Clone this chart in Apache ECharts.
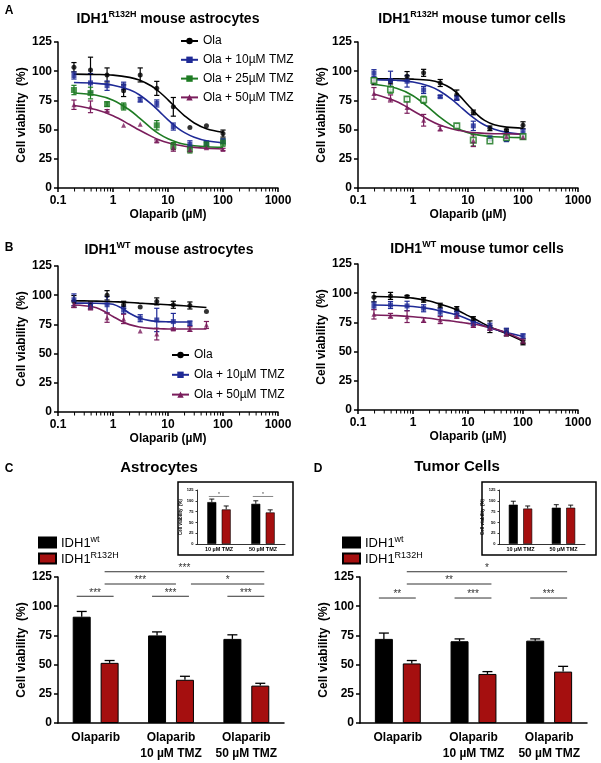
<!DOCTYPE html>
<html><head><meta charset="utf-8">
<script src="https://cdn.jsdelivr.net/npm/echarts@6/dist/echarts.min.js"></script>
<style>html,body{margin:0;padding:0;background:#fff}#c{width:601px;height:763px}</style>
</head><body><div id="c"></div>
<script>
// ---------- DATA ----------
const conc = [0.195, 0.39, 0.78, 1.56, 3.125, 6.25, 12.5, 25, 50, 100];
const fitX = [0.195, 0.5, 1, 2, 3, 5, 7, 10, 15, 20, 30, 50, 100];
const fitXB = [0.195, 0.3, 0.5, 0.75, 1, 1.5, 2, 3, 5, 7, 10, 15, 25, 50];
const xTickVals = [0.1, 1, 10, 100, 1000];
const minorTickVals = [0.2,0.3,0.4,0.5,0.6,0.7,0.8,0.9,2,3,4,5,6,7,8,9,20,30,40,50,60,70,80,90,200,300,400,500,600,700,800,900];

// Panel A left: IDH1 R132H mouse astrocytes
const olaAL = [103.4,101,96.8,83.3,96.8,85.3,69.5,51.7,53.2,46.6];
const olaALerr = [4,11,6,5,6,6,8,0,0,3];
const t10AL = [96.3,90,87.6,87.6,75.6,72.4,52.6,37.4,38.2,40.2];
const t10ALerr = [3,8,4,3,2,3,3,3,2,2];
const t25AL = [83.9,81.3,71.8,69.8,null,53.7,35.9,33,37.4,38.8];
const t25ALerr = [4,5,2,3,0,4,3,3,2,3];
const t50AL = [71.3,69.5,66.1,53.7,54.6,40.2,34.5,33,34.5,33];
const t50ALerr = [4,5,1,0,0,1,3,2,1,1];
const fitOlaAL = [97.5,97.2,96.6,94.7,92.4,87.3,82.2,75.5,67.2,61.8,55.7,50.8,47.7];
const fitT10AL = [90.3,89.6,88.0,84.1,79.8,71.8,65.4,58.4,51.3,47.4,43.4,40.4,38.6];
const fitT25AL = [81.3,79.4,75.2,66.8,60.0,51.1,46.1,42.1,39.0,37.5,36.2,35.3,34.8];
const fitT50AL = [70.6,67.0,61.9,54.4,49.6,44.2,41.2,38.8,36.8,35.8,34.8,34.0,33.4];

// Panel A right: IDH1 R132H mouse tumor cells
const olaAR = [91.4,91.1,95.7,98.6,89.9,79.9,64.7,51.1,49.4,53.7];
const olaARerr = [3,2,4,3,3,4,2,2,1,3];
const t10AR = [98.3,92,91.4,83.9,78.2,77,53.2,42.5,41.7,47.4];
const t10ARerr = [3,8,5,3,1,2,4,2,2,3];
const t25AR = [92,84.2,76.1,75.6,null,53.2,41,40.2,43,44];
const t25ARerr = [2,3,2,3,0,2,5,2,2,2];
const t50AR = [81,76.7,69,58,50.9,null,40.5,null,44,43.7];
const t50ARerr = [5,3,5,5,2,0,5,0,2,2];
const fitOlaAR = [93.5,93.5,93.2,92.2,90.4,85.2,79.1,71.1,62.4,57.9,54.1,52.1,51.2];
const fitT10AR = [92.8,92.2,90.8,87.2,83.3,76.1,70.2,63.9,57.5,54.0,50.3,47.6,45.9];
const fitT25AR = [88.8,85.4,79.0,68.2,61.1,53.6,50.0,47.4,45.5,44.6,43.9,43.4,43.1];
const fitT50AR = [80.4,74.0,66.2,58.0,54.1,50.7,49.2,48.0,47.2,46.8,46.5,46.3,46.1];

// Panel B left: IDH1 WT mouse astrocytes
const olaBL = [94.7,91.2,99.9,91.8,89.8,94.7,91.8,91.2,86,null];
const olaBLerr = [5,3,4,3,0,3,3,3,0,0];
const t10BL = [96.1,90.4,91.8,87.5,80.3,78.8,77.4,75.9,null,null];
const t10BLerr = [5,2,7,3,3,10,7,2,0,0];
const t50BL = [92.4,90.4,80.8,79.7,69.3,66.7,71,71,74.5,null];
const t50BLerr = [3,3,4,4,0,5,1,2,3,0];
const fitOlaBL = [95.2,95.1,94.9,94.6,94.4,94.1,93.8,93.2,92.6,92.2,91.8,91.3,90.5,89.5];
const fitT10BL = [93.2,93.2,93.1,92.8,92.3,88.5,84.5,80.5,78.0,77.4,77.2,77.1,77.0,null];
const fitT50BL = [91.6,91.0,89.3,85.2,81.8,77.2,74.8,72.8,71.6,71.3,71.1,71.0,71.0,71.0];

// Panel B right: IDH1 WT mouse tumor cells
const olaBR = [96.6,97.7,97.1,94.3,89.4,86.5,77.9,71.3,66.4,57.8];
const olaBRerr = [4,3,1,2,2,2,2,5,3,2];
const t10BR = [89.4,89.9,89.1,87.1,84.2,82.8,74.1,71.3,67,63.2];
const t10BRerr = [3,3,4,3,3,3,2,3,3,2];
const t50BR = [81.9,80.7,79.9,77,77,80.5,72.7,70.4,65.5,58.9];
const t50BRerr = [4,2,5,2,3,2,2,2,2,2];
const fitOlaBR = [97.2,96.8,95.8,93.3,90.8,87.5,84.5,80.8,76.6,73.5,69.5,65.5,58.9];
const fitT10BR = [89.9,89.5,88.6,86.8,85.0,82.6,80.6,77.7,74.4,72.0,69.2,66.4,62.9];
const fitT50BR = [81.4,80.8,79.9,78.6,77.3,76.2,75.2,74.2,73.0,71.6,69.5,66.1,59.8];

// Panels C / D bar charts
const barCats = ['Olaparib', 'Olaparib\n10 µM TMZ', 'Olaparib\n50 µM TMZ'];
const wtC = [91, 75, 72];
const wtCerr = [4.5, 3, 3.5];
const mutC = [51.5, 37, 32];
const mutCerr = [2, 3, 2];
const wtD = [72, 70, 70.5];
const wtDerr = [5, 2, 1.5];
const mutD = [51, 42, 44];
const mutDerr = [2.5, 2, 4.5];
// [fromCategory, fromBar(0=wt,1=R132H), toCategory, toBar, level, label]
const sigC = [[0,1,2,1,129.5,'***'],[0,1,1,1,119,'***'],[1,1,2,1,119,'*'],[0,0,0,1,108.5,'***'],[1,0,1,1,108.5,'***'],[2,0,2,1,108.5,'***']];
const sigD = [[0,1,2,1,129.5,'*'],[0,1,1,1,119,'**'],[0,0,0,1,107,'**'],[1,0,1,1,107,'***'],[2,0,2,1,107,'***']];

// insets
const insetCats = ['10 µM TMZ', '50 µM TMZ'];
const wtCin = [97, 93];
const wtCinErr = [7, 7];
const mutCin = [80, 73];
const mutCinErr = [8, 6];
const sigCin = [[0,0,0,1,110,'*'],[1,0,1,1,110,'*']];
const wtDin = [91, 84];
const wtDinErr = [8, 7];
const mutDin = [82, 84];
const mutDinErr = [6, 6];

// ---------- STYLE / BUILD ----------
const FF = "'Liberation Sans', Arial, Helvetica, sans-serif";
const C_BLACK = '#000000', C_BLUE = '#1f2a96', C_GREEN = '#1e7b23', C_PURPLE = '#7a1d5c', C_RED = '#a50f0f';
const NAMES = ['Ola', 'Ola + 10µM TMZ', 'Ola + 25µM TMZ', 'Ola + 50µM TMZ'];

const chart = echarts.init(document.getElementById('c'), null, {renderer: 'canvas'});

const grids = [
  {left: 58, top: 42, width: 220, height: 146},
  {left: 358, top: 42, width: 220, height: 146},
  {left: 58, top: 266, width: 220, height: 146},
  {left: 358, top: 264, width: 220, height: 146},
  {left: 58, top: 577, width: 226, height: 146},
  {left: 360, top: 577, width: 227, height: 146},
  {left: 197, top: 490, width: 88, height: 54},
  {left: 499, top: 490, width: 86, height: 54}
];

function logAxis(gi) {
  return {type: 'log', gridIndex: gi, logBase: 10, min: 0.1, max: 1000,
    name: 'Olaparib (µM)', nameLocation: 'middle', nameGap: 21,
    nameTextStyle: {color: '#000', fontWeight: 'bold', fontSize: 12, fontFamily: FF},
    axisLine: {onZero: false, lineStyle: {color: '#000', width: 1.5}},
    axisTick: {length: 4, lineStyle: {color: '#000', width: 1.5}},
    axisLabel: {color: '#000', fontWeight: 'bold', fontSize: 12, fontFamily: FF, margin: 7,
      formatter: v => String(+Number(v).toPrecision(3))},
    splitLine: {show: false}};
}
function valAxis(gi, fs, gap, nfs, tick, lw) {
  return {type: 'value', gridIndex: gi, min: 0, max: 125, interval: 25,
    name: 'Cell viability  (%)', nameLocation: 'middle', nameGap: gap, nameRotate: 90,
    nameTextStyle: {color: '#000', fontWeight: 'bold', fontSize: nfs, fontFamily: FF},
    axisLine: {show: true, onZero: false, lineStyle: {color: '#000', width: lw}},
    axisTick: {show: true, length: tick, lineStyle: {color: '#000', width: lw}},
    axisLabel: {color: '#000', fontWeight: 'bold', fontSize: fs, fontFamily: FF, margin: tick + 2},
    splitLine: {show: false}};
}
function catAxis(gi, cats, fs, lh, margin, tick, lw) {
  return {type: 'category', gridIndex: gi, data: cats,
    axisLine: {onZero: false, lineStyle: {color: '#000', width: lw}},
    axisTick: {alignWithLabel: true, length: tick, lineStyle: {color: '#000', width: lw}},
    axisLabel: {color: '#000', fontWeight: 'bold', fontSize: fs, lineHeight: lh, fontFamily: FF, margin: margin, interval: 0},
    splitLine: {show: false}};
}

const xAxes = [logAxis(0), logAxis(1), logAxis(2), logAxis(3),
  catAxis(4, barCats, 12, 16, 7, 4, 1.5), catAxis(5, barCats, 12, 16, 7, 4, 1.5),
  catAxis(6, insetCats, 5.5, 7, 2, 1.5, 0.8), catAxis(7, insetCats, 5.5, 7, 2, 1.5, 0.8)];
const yAxes = [valAxis(0, 12, 25, 12, 4, 1.5), valAxis(1, 12, 25, 12, 4, 1.5), valAxis(2, 12, 25, 12, 4, 1.5), valAxis(3, 12, 25, 12, 4, 1.5),
  valAxis(4, 12, 25, 12, 4, 1.5), valAxis(5, 12, 25, 12, 4, 1.5),
  valAxis(6, 4, 9, 4.5, 1.5, 0.8), valAxis(7, 4, 9, 4.5, 1.5, 0.8)];

const series = [];

function curve(gi, name, xs, ys, color, symbol) {
  series.push({type: 'line', name: name, xAxisIndex: gi, yAxisIndex: gi,
    data: xs.map((x, i) => [x, ys[i]]), smooth: 0.35, showSymbol: false, symbol: symbol, symbolSize: 6,
    lineStyle: {color: color, width: 1.6}, itemStyle: {color: color}, silent: true, z: 3});
}
function points(gi, name, ys, errs, color, symbol, size, open) {
  const pts = [], eb = [];
  conc.forEach((x, i) => { if (ys[i] != null) { pts.push([x, ys[i]]); if (errs[i] > 0) eb.push([x, ys[i], errs[i]]); } });
  series.push({type: 'custom', xAxisIndex: gi, yAxisIndex: gi, data: eb, silent: true, z: 2,
    renderItem(p, api) {
      const x = api.value(0), y = api.value(1), e = api.value(2);
      const t = api.coord([x, y + e]), b = api.coord([x, y - e]);
      const w = 2.6, st = {stroke: color, lineWidth: 1.2};
      return {type: 'group', children: [
        {type: 'line', shape: {x1: t[0], y1: t[1], x2: b[0], y2: b[1]}, style: st},
        {type: 'line', shape: {x1: t[0] - w, y1: t[1], x2: t[0] + w, y2: t[1]}, style: st},
        {type: 'line', shape: {x1: b[0] - w, y1: b[1], x2: b[0] + w, y2: b[1]}, style: st}]};
    }});
  series.push({type: 'scatter', name: name, xAxisIndex: gi, yAxisIndex: gi, data: pts, symbol: symbol, symbolSize: size,
    itemStyle: open ? {color: '#fff', borderColor: color, borderWidth: 1.6} : {color: color}, silent: true, z: 4});
}
function minorTicks(gi) {
  series.push({type: 'custom', xAxisIndex: gi, yAxisIndex: gi, data: minorTickVals.map(v => [v, 0]), silent: true, z: 5, clip: false,
    renderItem(p, api) {
      const c = api.coord([api.value(0), 0]);
      return {type: 'line', shape: {x1: c[0], y1: c[1], x2: c[0], y2: c[1] + 3.5}, style: {stroke: '#000', lineWidth: 1}};
    }});
}

// curves first (legend icons)
curve(0, NAMES[0], fitX, fitOlaAL, C_BLACK, 'circle');
curve(0, NAMES[1], fitX, fitT10AL, C_BLUE, 'rect');
curve(0, NAMES[2], fitX, fitT25AL, C_GREEN, 'rect');
curve(0, NAMES[3], fitX, fitT50AL, C_PURPLE, 'triangle');
points(0, NAMES[0], olaAL, olaALerr, C_BLACK, 'circle', 5);
points(0, NAMES[1], t10AL, t10ALerr, C_BLUE, 'rect', 5);
points(0, NAMES[2], t25AL, t25ALerr, C_GREEN, 'rect', 6);
points(0, NAMES[3], t50AL, t50ALerr, C_PURPLE, 'triangle', 5);

curve(1, NAMES[0], fitX, fitOlaAR, C_BLACK, 'circle');
curve(1, NAMES[1], fitX, fitT10AR, C_BLUE, 'rect');
curve(1, NAMES[2], fitX, fitT25AR, C_GREEN, 'rect');
curve(1, NAMES[3], fitX, fitT50AR, C_PURPLE, 'triangle');
points(1, NAMES[0], olaAR, olaARerr, C_BLACK, 'circle', 5);
points(1, NAMES[1], t10AR, t10ARerr, C_BLUE, 'rect', 5);
points(1, NAMES[2], t25AR, t25ARerr, C_GREEN, 'rect', 5.5, true);
points(1, NAMES[3], t50AR, t50ARerr, C_PURPLE, 'triangle', 5);

curve(2, NAMES[0], fitXB, fitOlaBL, C_BLACK, 'circle');
curve(2, NAMES[1], fitXB, fitT10BL, C_BLUE, 'rect');
curve(2, NAMES[3], fitXB, fitT50BL, C_PURPLE, 'triangle');
points(2, NAMES[0], olaBL, olaBLerr, C_BLACK, 'circle', 5);
points(2, NAMES[1], t10BL, t10BLerr, C_BLUE, 'rect', 5);
points(2, NAMES[3], t50BL, t50BLerr, C_PURPLE, 'triangle', 5);

curve(3, NAMES[0], fitX, fitOlaBR, C_BLACK, 'circle');
curve(3, NAMES[1], fitX, fitT10BR, C_BLUE, 'rect');
curve(3, NAMES[3], fitX, fitT50BR, C_PURPLE, 'triangle');
points(3, NAMES[0], olaBR, olaBRerr, C_BLACK, 'circle', 5);
points(3, NAMES[1], t10BR, t10BRerr, C_BLUE, 'rect', 5);
points(3, NAMES[3], t50BR, t50BRerr, C_PURPLE, 'triangle', 5);

[0, 1, 2, 3].forEach(minorTicks);

// bars
function bars(gi, wt, wtErr, mut, mutErr, bw, gapPct, lw, cap) {
  const off = bw * (1 + gapPct / 100) / 2;
  series.push({type: 'bar', name: 'IDH1wt', xAxisIndex: gi, yAxisIndex: gi, data: wt, barWidth: bw, barGap: gapPct + '%',
    itemStyle: {color: C_BLACK, borderColor: '#000', borderWidth: lw}, silent: true, z: 3});
  series.push({type: 'bar', name: 'IDH1R132H', xAxisIndex: gi, yAxisIndex: gi, data: mut, barWidth: bw, barGap: gapPct + '%',
    itemStyle: {color: C_RED, borderColor: '#000', borderWidth: lw}, silent: true, z: 3});
  [[wt, wtErr, -off], [mut, mutErr, off]].forEach(([vals, errs, o]) => {
    series.push({type: 'custom', xAxisIndex: gi, yAxisIndex: gi, data: vals.map((v, i) => [i, v, errs[i]]), silent: true, z: 2,
      renderItem(p, api) {
        const i = api.value(0), v = api.value(1), e = api.value(2);
        const b = api.coord([i, v]), t = api.coord([i, v + e]);
        const x = b[0] + o, st = {stroke: '#000', lineWidth: lw + 0.3};
        return {type: 'group', children: [
          {type: 'line', shape: {x1: x, y1: b[1], x2: x, y2: t[1]}, style: st},
          {type: 'line', shape: {x1: x - cap, y1: t[1], x2: x + cap, y2: t[1]}, style: st}]};
      }});
  });
  return off;
}
function sigLayer(gi, sig, off, fs, lw, pads) {
  series.push({type: 'custom', xAxisIndex: gi, yAxisIndex: gi, clip: false, silent: true, z: 6,
    data: sig.map(s => [s[0], s[4]]),
    renderItem(p, api) {
      const s = sig[p.dataIndex];
      const cx = (cat, bar) => api.coord([cat, 0])[0] + (bar === 0 ? -off : off);
      let x1 = cx(s[0], s[1]) - pads[0], x2 = cx(s[2], s[3]) + pads[1];
      if (sig.some(o => o !== s && o[4] === s[4] && o[0] === s[2] && o[1] === s[3])) x2 = cx(s[2], s[3]) - pads[2];
      if (sig.some(o => o !== s && o[4] === s[4] && o[2] === s[0] && o[3] === s[1])) x1 = cx(s[0], s[1]) + pads[3];
      const y = api.coord([0, s[4]])[1];
      return {type: 'group', children: [
        {type: 'line', shape: {x1: x1, y1: y, x2: x2, y2: y}, style: {stroke: '#333', lineWidth: lw}},
        {type: 'text', x: (x1 + x2) / 2, y: y + fs * 0.15, style: {text: s[5], fill: '#333', fontSize: fs, fontFamily: FF, align: 'center', verticalAlign: 'bottom'}}]};
    }});
}
const offC = bars(4, wtC, wtCerr, mutC, mutCerr, 18, 55, 1, 5);
sigLayer(4, sigC, offC, 10, 1, [5, 4, 9, 6]);
const offD = bars(5, wtD, wtDerr, mutD, mutDerr, 18, 55, 1, 5);
sigLayer(5, sigD, offD, 10, 1, [5, 4, 9, 6]);
const offCi = bars(6, wtCin, wtCinErr, mutCin, mutCinErr, 9, 60, 0.6, 2.5);
sigLayer(6, sigCin, offCi, 5, 0.6, [3, 3, 5, 3]);
const offDi = bars(7, wtDin, wtDinErr, mutDin, mutDinErr, 9, 60, 0.6, 2.5);

// ---------- TEXT ----------
const supRich = (big, small) => ({
  b: {fontSize: big, fontWeight: 'bold', fontFamily: FF, fill: '#000', color: '#000', verticalAlign: 'bottom', lineHeight: big + 2},
  s: {fontSize: small, fontWeight: 'bold', fontFamily: FF, fill: '#000', color: '#000', verticalAlign: 'top', lineHeight: small}
});
function titleText(x, y, text, fs) {
  return {type: 'text', x: x, y: y, z: 10, style: {text: text, align: 'center', verticalAlign: 'middle', fontFamily: FF,
    fontSize: fs, fontWeight: 'bold', fill: '#000', rich: supRich(fs, 9)}};
}
const legRich = {
  b: {fontSize: 13, fontFamily: FF, color: '#000', verticalAlign: 'bottom', lineHeight: 15},
  s: {fontSize: 9, fontFamily: FF, color: '#000', verticalAlign: 'top', lineHeight: 9}
};

const option = {
  animation: false,
  backgroundColor: '#fff',
  textStyle: {fontFamily: FF},
  grid: grids.map(g => Object.assign({containLabel: false}, g)),
  xAxis: xAxes,
  yAxis: yAxes,
  legend: [
    {data: NAMES, orient: 'vertical', left: 180, top: 35, padding: 0, itemWidth: 17, itemHeight: 8, itemGap: 6.8, selectedMode: false,
      textStyle: {fontSize: 12, fontFamily: FF, color: '#000'}},
    {data: [NAMES[0], NAMES[1], NAMES[3]], orient: 'vertical', left: 171, top: 349, padding: 0, itemWidth: 17, itemHeight: 8, itemGap: 7.8, selectedMode: false,
      textStyle: {fontSize: 12, fontFamily: FF, color: '#000'}},
    {data: ['IDH1wt', 'IDH1R132H'], orient: 'vertical', left: 38, top: 535, padding: 0, icon: 'rect', itemWidth: 17, itemHeight: 10, itemGap: 1, selectedMode: false,
      formatter: n => n === 'IDH1wt' ? '{b|IDH1}{s|wt}' : '{b|IDH1}{s|R132H}', textStyle: {rich: legRich}},
    {data: ['IDH1wt', 'IDH1R132H'], orient: 'vertical', left: 342, top: 535, padding: 0, icon: 'rect', itemWidth: 17, itemHeight: 10, itemGap: 1, selectedMode: false,
      formatter: n => n === 'IDH1wt' ? '{b|IDH1}{s|wt}' : '{b|IDH1}{s|R132H}', textStyle: {rich: legRich}}
  ],
  graphic: [
    {type: 'rect', z: 0, shape: {x: 178, y: 482, width: 115, height: 73}, style: {fill: '#fff', stroke: '#000', lineWidth: 1.5}},
    {type: 'rect', z: 0, shape: {x: 482, y: 482, width: 114, height: 73}, style: {fill: '#fff', stroke: '#000', lineWidth: 1.5}},
    {type: 'text', x: 9, y: 11, z: 10, style: {text: 'A', fontSize: 12, fontWeight: 'bold', fontFamily: FF, fill: '#000', align: 'center', verticalAlign: 'middle'}},
    {type: 'text', x: 9, y: 248, z: 10, style: {text: 'B', fontSize: 12, fontWeight: 'bold', fontFamily: FF, fill: '#000', align: 'center', verticalAlign: 'middle'}},
    {type: 'text', x: 9, y: 469, z: 10, style: {text: 'C', fontSize: 12, fontWeight: 'bold', fontFamily: FF, fill: '#000', align: 'center', verticalAlign: 'middle'}},
    {type: 'text', x: 318, y: 469, z: 10, style: {text: 'D', fontSize: 12, fontWeight: 'bold', fontFamily: FF, fill: '#000', align: 'center', verticalAlign: 'middle'}},
    titleText(168, 18, '{b|IDH1}{s|R132H}{b| mouse astrocytes}', 14),
    titleText(472, 18, '{b|IDH1}{s|R132H}{b| mouse tumor cells}', 14),
    titleText(169, 249, '{b|IDH1}{s|WT}{b| mouse astrocytes}', 14),
    titleText(477, 248, '{b|IDH1}{s|WT}{b| mouse tumor cells}', 14),
    {type: 'text', x: 159, y: 468, z: 10, style: {text: 'Astrocytes', fontSize: 15, fontWeight: 'bold', fontFamily: FF, fill: '#000', align: 'center', verticalAlign: 'middle'}},
    {type: 'text', x: 457, y: 467, z: 10, style: {text: 'Tumor Cells', fontSize: 15, fontWeight: 'bold', fontFamily: FF, fill: '#000', align: 'center', verticalAlign: 'middle'}}
  ],
  series: series
};
chart.setOption(option);
</script></body></html>
